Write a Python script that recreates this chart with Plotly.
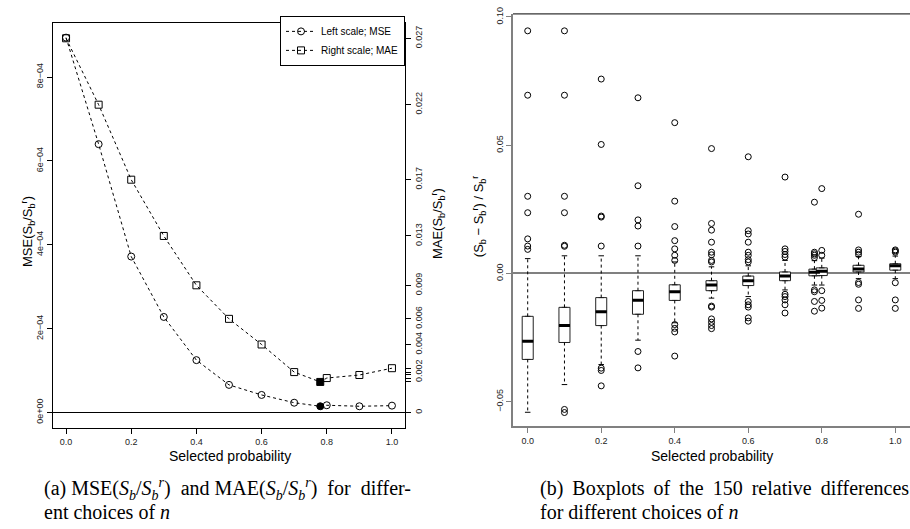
import plotly.graph_objects as go

# ---------------- data: panel (a) ----------------
prob = [0.0, 0.1, 0.2, 0.3, 0.4, 0.5, 0.6, 0.7, 0.78, 0.8, 0.9, 1.0]
mse = [8.94e-4, 6.40e-4, 3.72e-4, 2.28e-4, 1.25e-4, 6.6e-5, 4.2e-5,
       2.35e-5, 1.5e-5, 1.74e-5, 1.5e-5, 1.65e-5]
mae = [0.02700, 0.02221, 0.01680, 0.01274, 0.00918, 0.00676, 0.00491,
       0.00292, 0.00221, 0.00249, 0.00271, 0.00320]
mae_tick_labels = ["0.027", "0.022", "0.017", "0.013", "0.009", "0.006", "0.004",
                   "0.002", " ", " ", " ", " "]
selected_index = 8
x_ticks = [0.0, 0.2, 0.4, 0.6, 0.8, 1.0]
x_tick_labels = ["0.0", "0.2", "0.4", "0.6", "0.8", "1.0"]
mse_ticks = [0, 2e-4, 4e-4, 6e-4, 8e-4]
mse_tick_labels = ["0e+00", "2e\u221204", "4e\u221204", "6e\u221204", "8e\u221204"]

# ---------------- data: panel (b) ----------------
box_pos = [0.0, 0.1, 0.2, 0.3, 0.4, 0.5, 0.6, 0.7, 0.78, 0.8, 0.9, 1.0]
box_q1 = [-0.0335, -0.0269, -0.0203, -0.0159, -0.0105, -0.0067, -0.0047,
          -0.0028, -0.0009, -0.0008, 0.0006, 0.0013]
box_median = [-0.0264, -0.0203, -0.0149, -0.0104, -0.0071, -0.0045, -0.0028,
              -0.0010, 0.0005, 0.0009, 0.0018, 0.0030]
box_q3 = [-0.0167, -0.0132, -0.0094, -0.0067, -0.0044, -0.0028, -0.0010,
          0.0006, 0.0017, 0.0022, 0.0032, 0.0038]
whisker_low = [-0.0541, -0.0433, -0.0355, -0.0260, -0.0192, -0.0096, -0.0090,
               -0.0064, -0.0045, -0.0045, -0.0020, -0.0020]
whisker_high = [0.0058, 0.0069, 0.0069, 0.0069, 0.0045, 0.0026, 0.0030,
                0.0051, 0.0050, 0.0060, 0.0066, 0.0068]
outliers = [
    [0.0946, 0.0695, 0.0301, 0.0237, 0.0135, 0.0107, 0.0094],
    [0.0946, 0.0695, 0.0301, 0.0237, 0.0110, 0.0106, -0.0530, -0.0542],
    [0.0758, 0.0503, 0.0224, 0.0220, 0.0107, -0.0369, -0.0378, -0.0438],
    [0.0685, 0.0342, 0.0209, 0.0185, 0.0107, -0.0304, -0.0368],
    [0.0588, 0.0282, 0.0183, 0.0128, 0.0096, 0.0071, 0.0051, -0.0199, -0.0214, -0.0228, -0.0322],
    [0.0487, 0.0195, 0.0169, 0.0122, 0.0083, 0.0073, 0.0051, 0.0045, -0.0127, -0.0131,
     -0.0177, -0.0190, -0.0203, -0.0215],
    [0.0455, 0.0167, 0.0154, 0.0122, 0.0083, 0.0071, 0.0054, 0.0045, -0.0109, -0.0122,
     -0.0131, -0.0173, -0.0186],
    [0.0376, 0.0096, 0.0086, 0.0074, 0.0064, -0.0081, -0.0090, -0.0103, -0.0122, -0.0154],
    [0.0278, 0.0083, 0.0077, 0.0071, 0.0062, -0.0064, -0.0071, -0.0109, -0.0147],
    [0.0331, 0.0090, 0.0071, -0.0067, -0.0105, -0.0135],
    [0.0231, 0.0092, 0.0083, 0.0074, -0.0035, -0.0042, -0.0103, -0.0136],
    [0.0092, 0.0088, 0.0083, -0.0036, -0.0103, -0.0136],
]
rel_ticks = [-0.05, 0.0, 0.05, 0.10]
rel_tick_labels = ["\u22120.05", "0.00", "0.05", "0.10"]

# ---------------- geometry helpers (pixels -> paper) ----------------
W, H = 910, 529
def fx(p):
    return p / W
def fy(p):
    return 1 - p / H

SANS = "Liberation Sans, Arial, sans-serif"
SERIF = "Liberation Serif, Times New Roman, serif"
BOX_W = 0.03
NB = "\u00a0"
TH = "\u2009"

fig = go.Figure()

# ---- panel (a): MSE and MAE curves ----
sym_c = ["circle" if i == selected_index else "circle-open" for i in range(len(prob))]
sym_s = ["square" if i == selected_index else "square-open" for i in range(len(prob))]
fig.add_trace(go.Scatter(
    x=prob, y=mse, mode="lines+markers", name="Left scale; MSE",
    line=dict(color="black", width=1, dash="3px,3px"),
    marker=dict(symbol=sym_c, size=7, color="black", line=dict(color="black", width=1)),
    xaxis="x", yaxis="y"))
fig.add_trace(go.Scatter(
    x=prob, y=mae, mode="lines+markers", name="Right scale; MAE",
    line=dict(color="black", width=1, dash="3px,3px"),
    marker=dict(symbol=sym_s, size=7, color="black", line=dict(color="black", width=1)),
    xaxis="x", yaxis="y2"))

# ---- panel (b): boxplots ----
wx, wy = [], []
for p, lo, hi, a, b in zip(box_pos, whisker_low, whisker_high, box_q1, box_q3):
    wx += [p, p, None, p, p, None]
    wy += [b, hi, None, a, lo, None]
fig.add_trace(go.Scatter(x=wx, y=wy, mode="lines", showlegend=False, hoverinfo="skip",
                         line=dict(color="black", width=1, dash="3px,3px"),
                         xaxis="x3", yaxis="y3"))
sx, sy = [], []
for p, lo, hi in zip(box_pos, whisker_low, whisker_high):
    sx += [p - BOX_W / 4, p + BOX_W / 4, None, p - BOX_W / 4, p + BOX_W / 4, None]
    sy += [hi, hi, None, lo, lo, None]
fig.add_trace(go.Scatter(x=sx, y=sy, mode="lines", showlegend=False, hoverinfo="skip",
                         line=dict(color="black", width=1), xaxis="x3", yaxis="y3"))
fig.add_trace(go.Box(
    x=box_pos, q1=box_q1, median=box_median, q3=box_q3,
    lowerfence=box_q1, upperfence=box_q3, width=BOX_W,
    line=dict(color="#222222", width=1), fillcolor="white",
    boxpoints=False, showlegend=False, hoverinfo="skip",
    xaxis="x3", yaxis="y3"))
mx, my = [], []
for p, m in zip(box_pos, box_median):
    mx += [p - BOX_W / 2, p + BOX_W / 2, None]
    my += [m, m, None]
fig.add_trace(go.Scatter(x=mx, y=my, mode="lines", showlegend=False, hoverinfo="skip",
                         line=dict(color="black", width=3), xaxis="x3", yaxis="y3"))
ox, oy = [], []
for p, vals in zip(box_pos, outliers):
    for v in vals:
        ox.append(p)
        oy.append(v)
fig.add_trace(go.Scatter(x=ox, y=oy, mode="markers", showlegend=False, hoverinfo="skip",
                         marker=dict(symbol="circle-open", size=6, color="black",
                                     line=dict(width=1)),
                         xaxis="x3", yaxis="y3"))

tickfont = dict(family=SANS, size=9, color="#222222")
common = dict(ticks="outside", ticklen=5, showgrid=False, tickfont=tickfont)

fig.update_layout(
    width=W, height=H, margin=dict(l=0, r=0, t=0, b=0),
    paper_bgcolor="white", plot_bgcolor="white",
    xaxis=dict(domain=[fx(53), fx(405)], range=[-0.04, 1.04], anchor="y",
               tickvals=x_ticks, ticktext=x_tick_labels, showline=True,
               linecolor="black", linewidth=1, mirror=True, zeroline=False,
               tickcolor="black", **common),
    yaxis=dict(domain=[fy(427), fy(16)], range=[-3.765e-5, 9.294e-4], anchor="x",
               tickvals=mse_ticks, ticktext=mse_tick_labels, tickangle=-90,
               showline=True, linecolor="black", linewidth=1, mirror=True,
               zeroline=True, zerolinecolor="black", zerolinewidth=1,
               tickcolor="black", **common),
    yaxis2=dict(overlaying="y", side="right", anchor="x",
                range=[-0.001139, 0.028118],
                tickvals=mae + [0], ticktext=mae_tick_labels + ["0"], tickangle=-90,
                showline=False, zeroline=False, tickcolor="black", **common),
    xaxis3=dict(domain=[fx(513), 1.0], range=[-0.04, 1.04], anchor="y3",
                tickvals=x_ticks, ticktext=x_tick_labels, showline=True,
                linecolor="#808080", linewidth=1.5, zeroline=False,
                tickcolor="#808080", **common),
    yaxis3=dict(domain=[fy(425), fy(7)], range=[-0.0596, 0.1012], anchor="x3",
                tickvals=rel_ticks, ticktext=rel_tick_labels, tickangle=-90,
                showline=True, linecolor="#808080", linewidth=1.5,
                zeroline=True, zerolinecolor="#808080", zerolinewidth=2,
                tickcolor="#808080", **common),
    legend=dict(x=fx(405), xanchor="right", y=fy(9), yanchor="top",
                bgcolor="white", bordercolor="black", borderwidth=1,
                font=dict(family=SANS, size=10, color="black"),
                itemwidth=30, tracegroupgap=0),
    showlegend=True,
)

fig.add_shape(type="line", xref="x3 domain", yref="y3 domain", x0=0, x1=1, y0=1, y1=1,
              line=dict(color="black", width=1))

def A(text, x, y, size, family=SANS, angle=0, xanchor="center"):
    return dict(text=text, x=fx(x), y=fy(y), xref="paper", yref="paper",
                xanchor=xanchor, yanchor="middle", showarrow=False, textangle=angle,
                font=dict(family=family, size=size, color="black"))

ann = [
    A("Selected probability", 230, 455, 14),
    A("Selected probability", 712, 455, 14),
    A("MSE(S<sub>b</sub>/S<sub>b</sub><sup>r</sup>)", 28, 228, 13, angle=-90),
    A("MAE(S<sub>b</sub>/S<sub>b</sub><sup>r</sup>)", 438, 220, 13, angle=-90),
    A("(S<sub>b</sub> \u2212 S<sub>b</sub><sup>r</sup>) / S<sub>b</sub><sup>r</sup>",
      479, 212, 13, angle=-90),
]
sb = "<i>S</i><sub><i>b</i></sub>"
sbr = "<i>S</i><sub><i>b</i></sub><sup><i>r</i></sup>"
ann.append(A(f"(a) MSE({sb}/{sbr}) {NB}and MAE({sb}/{sbr}) {NB}for {NB}differ-",
             42, 488, 20, family=SERIF, xanchor="left"))
ann.append(A("ent choices of <i>n</i>", 42, 512, 20, family=SERIF, xanchor="left"))
cap_b = f"(b) {TH}Boxplots {TH}of {TH}the {TH}150 {TH}relative {TH}differences"
ann.append(A(cap_b, 538, 488, 20, family=SERIF, xanchor="left"))
ann.append(A("for different choices of <i>n</i>", 538, 512, 20, family=SERIF, xanchor="left"))
fig.update_layout(annotations=ann)

fig.write_html("out.html")
